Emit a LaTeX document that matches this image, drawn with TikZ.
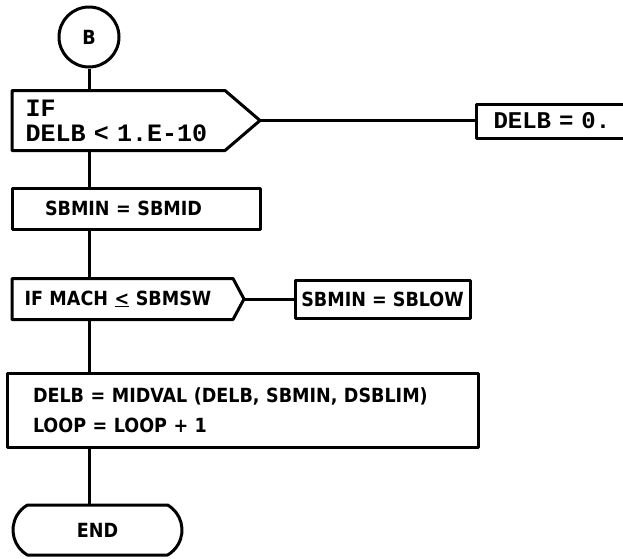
\documentclass[tikz,border=0pt]{standalone}
\usepackage{fontspec}
\newfontfamily\condfont{DejaVu Sans Condensed}
\newfontfamily\typefont{Liberation Mono}
\usetikzlibrary{calc,shapes.misc}
\newcommand{\procfont}{\condfont\bfseries\fontsize{19.5}{30}\selectfont}
\newcommand{\testfont}{\typefont\bfseries\fontsize{25}{25}\selectfont}
\newcommand{\valfont}{\typefont\bfseries\fontsize{24}{25}\selectfont}

\tikzset{
  procbox/.style={draw, rectangle, inner sep=0pt, font=\procfont},
  testbox/.style={rectangle, inner sep=0pt, anchor=west, align=left}
}

\begin{document}
\begin{tikzpicture}[x=1pt, y=-1pt, line width=3pt, line join=round]
  \useasboundingbox (0,0) rectangle (623,558);
  % entry connector
  \node[draw, circle, minimum size=60, inner sep=0pt, font=\procfont] (b) at (89,37) {B};

  % first test and its branch
  \node[testbox, font=\testfont, text width=186, inner xsep=12, minimum height=57] (if1) at (12,120.5) {IF\\DELB < 1.E-10};
  \coordinate (if1 tip) at ($(if1.east)+(35,0)$);
  \node[draw, anchor=west, inner sep=0pt, inner xsep=17, text width=150, minimum height=34, font=\valfont] (delb0) at (475,121) {DELB = 0.};

  \node[procbox, text width=182, inner xsep=33, align=left, minimum height=41] (sbmid) at (136,208.5) {SBMIN = SBMID};

  % second test and its branch
  \node[testbox, font=\procfont, text width=196, inner xsep=11, minimum height=38] (if2) at (12,299) {IF MACH \underline{<} SBMSW};
  \coordinate (if2 tip) at ($(if2.east)+(11,0)$);
  \node[procbox, minimum width=175, minimum height=38] (sblow) at (382.5,299) {SBMIN = SBLOW};

  \node[procbox, text width=419, inner xsep=26, minimum height=74, align=left] (midval) at (242.5,410) {DELB = MIDVAL (DELB, SBMIN, DSBLIM)\\LOOP = LOOP + 1};
  \node[procbox, rounded rectangle, rounded rectangle arc length=120, minimum width=169, minimum height=50] (stop) at (97.5,530) {END};

  % outlines of the tests
  \foreach \n/\tip in {if1/35, if2/11}
    \draw (\n.north west) -- (\n.north east) -- ($(\n.east)+(\tip,0)$) -- (\n.south east) -- (\n.south west) -- cycle;

  % connectors
  \foreach \u/\v in {b/if1, if1/sbmid, sbmid/if2, if2/midval, midval/stop}
    \draw (b.south |- \u.south) -- (b.south |- \v.north);
  \draw (if1 tip) -- (if1 tip -| delb0.west);
  \draw (if2 tip) -- (if2 tip -| sblow.west);
\end{tikzpicture}
\end{document}
